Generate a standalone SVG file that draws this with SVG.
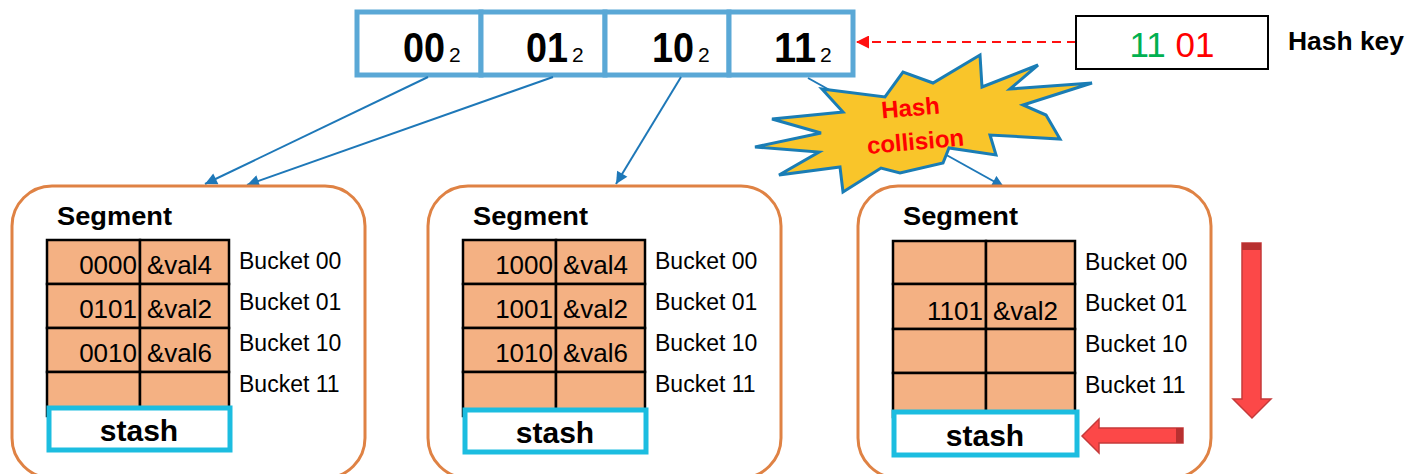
<svg xmlns="http://www.w3.org/2000/svg" width="1410" height="474" viewBox="0 0 1410 474">
<style>
text{font-family:"Liberation Sans",Arial,sans-serif;fill:#000}
.dir{fill:#fff;stroke:#5AA8D6;stroke-width:5}
.big{font-size:42px;font-weight:bold}
.sub{font-size:21px}
.seg{fill:#fff;stroke:#DF8244;stroke-width:3}
.cell{fill:#F4B183;stroke:#000;stroke-width:2.5}
.stash{fill:#fff;stroke:#1CBDE0;stroke-width:5}
.title{font-size:25px;font-weight:bold}
.val{font-size:26px}
.bk{font-size:23px}
.st{font-size:30px;font-weight:bold}
.conn{stroke:#1E78B8;stroke-width:2;fill:none}
.blk{fill:#FC4848;stroke:#C53A3A;stroke-width:1.5}
</style>
<defs>
<marker id="ab" viewBox="0 0 10 10" refX="10" refY="5" markerWidth="14" markerHeight="12" markerUnits="userSpaceOnUse" orient="auto">
<path d="M0,0 L10,5 L0,10 z" fill="#1E78B8"/>
</marker>
<marker id="ar" viewBox="0 0 10 10" refX="10" refY="5" markerWidth="15" markerHeight="13" markerUnits="userSpaceOnUse" orient="auto">
<path d="M0,0 L10,5 L0,10 z" fill="#FF1010"/>
</marker>
</defs>

<g id="directory">
<rect class="dir" x="357" y="12" width="124" height="63"/>
<rect class="dir" x="481" y="12" width="124" height="63"/>
<rect class="dir" x="605" y="12" width="124" height="63"/>
<rect class="dir" x="729" y="12" width="124" height="63"/>
<text class="big" x="403" y="62" textLength="42" lengthAdjust="spacingAndGlyphs">00</text><text class="sub" x="449" y="62">2</text>
<text class="big" x="526" y="62" textLength="42" lengthAdjust="spacingAndGlyphs">01</text><text class="sub" x="572" y="62">2</text>
<text class="big" x="652" y="62" textLength="42" lengthAdjust="spacingAndGlyphs">10</text><text class="sub" x="698" y="62">2</text>
<text class="big" x="774" y="62" textLength="42" lengthAdjust="spacingAndGlyphs">11</text><text class="sub" x="820" y="62">2</text>
</g>

<g id="connectors">
<line class="conn" x1="428" y1="77" x2="205" y2="184" marker-end="url(#ab)"/>
<line class="conn" x1="553" y1="77" x2="247" y2="185" marker-end="url(#ab)"/>
<line class="conn" x1="681" y1="77" x2="616" y2="184" marker-end="url(#ab)"/>
<line class="conn" x1="808" y1="78" x2="1004" y2="187" marker-end="url(#ab)"/>
<line x1="1076" y1="42" x2="856" y2="42" stroke="#FF1010" stroke-width="2.2" stroke-dasharray="9,6" marker-end="url(#ar)"/>
</g>

<g id="collision">
<path d="M822,89 L885,97 L903,72 L933,83 L980,55 L982,87 L1038,65 L1010,89 L1092,83 L1023,105 L1046,115 L1060,139 L990,135 L996,155 L949,148 L943,163 L900,173 L881,168 L843,192 L840,167 L779,175 L819,152 L755,147 L821,133 L772,119 L843,112 Z" fill="#F9C52A" stroke="#1A7DB5" stroke-width="3" stroke-linejoin="miter"/>
<g transform="rotate(-5 912 125)">
<text x="912" y="116" text-anchor="middle" font-size="24" font-weight="bold" style="fill:#FF0000">Hash</text>
<text x="914" y="150" text-anchor="middle" font-size="24" font-weight="bold" style="fill:#FF0000">collision</text>
</g>
</g>

<g id="hashkey">
<rect x="1076" y="16" width="192" height="53" fill="#fff" stroke="#000" stroke-width="2"/>
<text x="1172" y="57" text-anchor="middle" font-size="35"><tspan style="fill:#00B050">11</tspan> <tspan style="fill:#FF0000">01</tspan></text>
<text x="1288" y="50" font-size="25" font-weight="bold" textLength="116" lengthAdjust="spacingAndGlyphs">Hash key</text>
</g>

<g id="segment1">
<rect class="seg" x="12" y="186" width="353" height="292" rx="40"/>
<text class="title" x="57" y="225" textLength="115" lengthAdjust="spacingAndGlyphs">Segment</text>
<rect class="cell" x="47" y="240" width="93" height="44"/><rect class="cell" x="140" y="240" width="89" height="44"/>
<rect class="cell" x="47" y="284" width="93" height="44"/><rect class="cell" x="140" y="284" width="89" height="44"/>
<rect class="cell" x="47" y="328" width="93" height="44"/><rect class="cell" x="140" y="328" width="89" height="44"/>
<rect class="cell" x="47" y="372" width="93" height="44"/><rect class="cell" x="140" y="372" width="89" height="44"/>
<text class="val" x="137" y="274" text-anchor="end">0000</text><text class="val" x="147" y="274">&amp;val4</text>
<text class="val" x="137" y="318" text-anchor="end">0101</text><text class="val" x="147" y="318">&amp;val2</text>
<text class="val" x="137" y="362" text-anchor="end">0010</text><text class="val" x="147" y="362">&amp;val6</text>
<text class="bk" x="239" y="269">Bucket 00</text>
<text class="bk" x="239" y="310">Bucket 01</text>
<text class="bk" x="239" y="351">Bucket 10</text>
<text class="bk" x="239" y="392">Bucket 11</text>
<rect class="stash" x="49" y="408" width="181" height="42"/>
<text class="st" x="139" y="441" text-anchor="middle">stash</text>
</g>

<g id="segment2" transform="translate(416,0)">
<rect class="seg" x="12" y="186" width="353" height="292" rx="40"/>
<text class="title" x="57" y="225" textLength="115" lengthAdjust="spacingAndGlyphs">Segment</text>
<rect class="cell" x="47" y="240" width="93" height="44"/><rect class="cell" x="140" y="240" width="89" height="44"/>
<rect class="cell" x="47" y="284" width="93" height="44"/><rect class="cell" x="140" y="284" width="89" height="44"/>
<rect class="cell" x="47" y="328" width="93" height="44"/><rect class="cell" x="140" y="328" width="89" height="44"/>
<rect class="cell" x="47" y="372" width="93" height="44"/><rect class="cell" x="140" y="372" width="89" height="44"/>
<text class="val" x="137" y="274" text-anchor="end">1000</text><text class="val" x="147" y="274">&amp;val4</text>
<text class="val" x="137" y="318" text-anchor="end">1001</text><text class="val" x="147" y="318">&amp;val2</text>
<text class="val" x="137" y="362" text-anchor="end">1010</text><text class="val" x="147" y="362">&amp;val6</text>
<text class="bk" x="239" y="269">Bucket 00</text>
<text class="bk" x="239" y="310">Bucket 01</text>
<text class="bk" x="239" y="351">Bucket 10</text>
<text class="bk" x="239" y="392">Bucket 11</text>
<rect class="stash" x="49" y="410" width="181" height="42"/>
<text class="st" x="139" y="443" text-anchor="middle">stash</text>
</g>

<g id="segment3" transform="translate(846,0)">
<rect class="seg" x="12" y="186" width="353" height="292" rx="40"/>
<text class="title" x="57" y="225" textLength="115" lengthAdjust="spacingAndGlyphs">Segment</text>
<rect class="cell" x="47" y="241" width="93" height="43"/><rect class="cell" x="140" y="241" width="89" height="43"/>
<rect class="cell" x="47" y="284" width="93" height="45"/><rect class="cell" x="140" y="284" width="89" height="45"/>
<rect class="cell" x="47" y="329" width="93" height="44"/><rect class="cell" x="140" y="329" width="89" height="44"/>
<rect class="cell" x="47" y="373" width="93" height="44"/><rect class="cell" x="140" y="373" width="89" height="44"/>
<text class="val" x="137" y="320" text-anchor="end">1101</text><text class="val" x="147" y="320">&amp;val2</text>
<text class="bk" x="239" y="270">Bucket 00</text>
<text class="bk" x="239" y="311">Bucket 01</text>
<text class="bk" x="239" y="352">Bucket 10</text>
<text class="bk" x="239" y="393">Bucket 11</text>
<rect class="stash" x="48" y="412" width="183" height="43"/>
<text class="st" x="139" y="446" text-anchor="middle">stash</text>
</g>

<g id="arrow-down">
<path class="blk" d="M1242,243 H1261 V399 H1271 L1252,418 L1233,399 H1242 Z"/>
<rect x="1242" y="243" width="19" height="7" fill="#B83030"/>
</g>
<g id="arrow-left">
<path class="blk" d="M1082,436 L1099,419 V428 H1183 V443 H1099 V453 Z"/>
<rect x="1176" y="428" width="7" height="15" fill="#B83030"/>
</g>
</svg>
